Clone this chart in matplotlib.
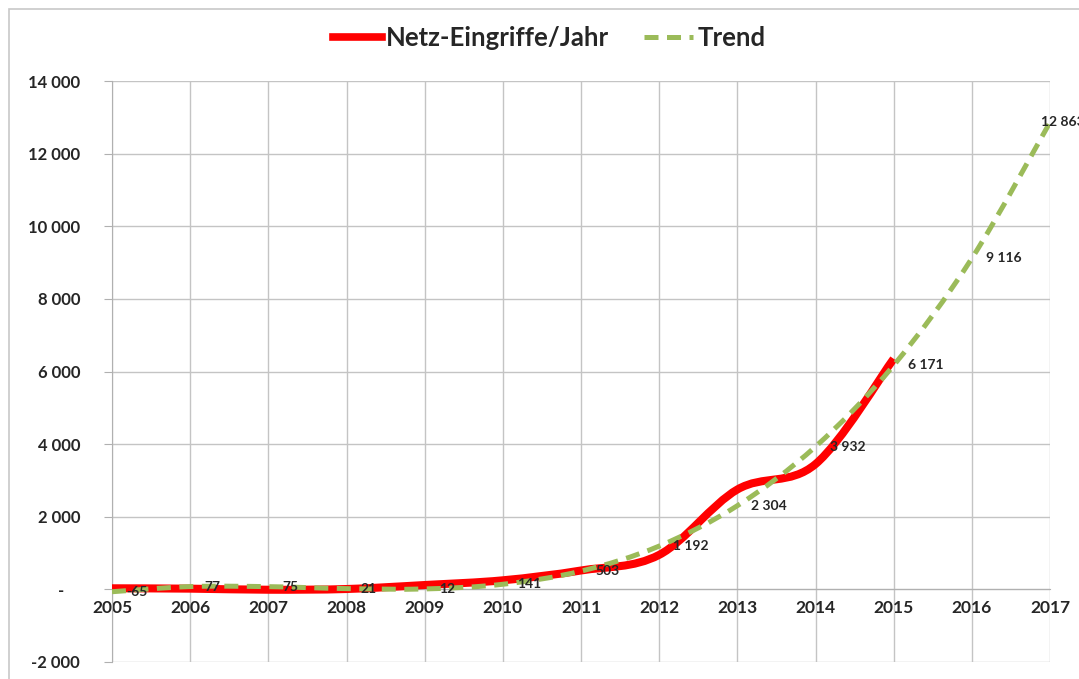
import numpy as np
import matplotlib.pyplot as plt
from matplotlib.path import Path
from matplotlib.patches import PathPatch, Rectangle
from matplotlib.lines import Line2D
from matplotlib.ticker import FuncFormatter, MultipleLocator

plt.rcParams["font.family"] = ["Lato", "DejaVu Sans"]

# data
years = [2005, 2006, 2007, 2008, 2009, 2010, 2011, 2012, 2013, 2014, 2015]
netz = [30, 20, -10, 10, 120, 250, 520, 950, 2750, 3450, 6350]

trend_years = [2005, 2006, 2007, 2008, 2009, 2010, 2011, 2012, 2013, 2014, 2015, 2016, 2017]
trend = [-65, 77, 75, 21, 12, 141, 503, 1192, 2304, 3932, 6171, 9116, 12863]

red = "#FF0000"
green = "#9BBB59"
dash = (0, (2.8, 1.7))


def smooth_path(x, y):
    """Excel-like smoothed line: cubic Bezier with Catmull-Rom control points."""
    x = np.asarray(x, float)
    y = np.asarray(y, float)
    verts = [(x[0], y[0])]
    codes = [Path.MOVETO]
    n = len(x)
    for i in range(n - 1):
        i0 = max(i - 1, 0)
        i3 = min(i + 2, n - 1)
        c1 = (x[i] + (x[i + 1] - x[i0]) / 6, y[i] + (y[i + 1] - y[i0]) / 6)
        c2 = (x[i + 1] - (x[i3] - x[i]) / 6, y[i + 1] - (y[i3] - y[i]) / 6)
        verts += [c1, c2, (x[i + 1], y[i + 1])]
        codes += [Path.CURVE4] * 3
    return Path(verts, codes)


fig = plt.figure(figsize=(10.79, 6.79), dpi=100)
ax = fig.add_axes([112 / 1079, 1 - 662 / 679, (1050 - 112) / 1079, (662 - 81) / 679])

# chart frame
fig.patches.append(
    Rectangle((9 / 1079, -0.05), 1.2, 1 - 9 / 679 + 0.05, transform=fig.transFigure,
              fill=False, edgecolor="#C8C8C8", lw=1.2, zorder=0)
)

ax.add_patch(PathPatch(smooth_path(years, netz), fill=False, edgecolor=red,
                       lw=5.8, capstyle="butt", zorder=3))
ax.add_patch(PathPatch(smooth_path(trend_years, trend), fill=False, edgecolor=green,
                       lw=3.6, linestyle=dash, zorder=4))

for i, (xv, yv) in enumerate(zip(trend_years, trend)):
    dx = -9 if i == len(trend) - 1 else 14
    ax.annotate(f"{yv:,}".replace(",", " "), (xv, yv), xytext=(dx, 0),
                textcoords="offset pixels", ha="left", va="center",
                fontsize=10, fontweight="bold", color="#262626", zorder=5,
                annotation_clip=False)

ax.set_xlim(2005, 2017)
ax.set_ylim(-2000, 14000)
ax.xaxis.set_major_locator(MultipleLocator(1))
ax.yaxis.set_major_locator(MultipleLocator(2000))


def yfmt(v, pos):
    if v == 0:
        return "-    "
    return f"{int(v):,}".replace(",", " ")


ax.yaxis.set_major_formatter(FuncFormatter(yfmt))
ax.xaxis.set_major_formatter(FuncFormatter(lambda v, p: f"{int(v)}"))

ax.grid(True, color="#C4C4C4", lw=1)
ax.set_axisbelow(True)
for s in ["top", "right"]:
    ax.spines[s].set_visible(False)
ax.spines["left"].set_color("#B0B0B0")
ax.spines["bottom"].set_color("#B0B0B0")
ax.spines["bottom"].set_position(("data", 0))

ax.tick_params(axis="x", length=0, pad=8, labelsize=12.5, labelcolor="#262626")
ax.tick_params(axis="y", length=6, color="#B0B0B0", pad=17, labelsize=12, labelcolor="#262626")
for lab in ax.get_xticklabels() + ax.get_yticklabels():
    lab.set_fontweight("bold")

handles = [Line2D([], [], color=red, lw=5.5),
           Line2D([], [], color=green, lw=3.6, linestyle=dash)]
fig.legend(handles, ["Netz-Eingriffe/Jahr", "Trend"], loc="center",
           bbox_to_anchor=(549 / 1079, 1 - 38 / 679), ncol=2, frameon=False,
           handlelength=1.9, handletextpad=0.15, columnspacing=1.4,
           prop={"size": 18.5, "weight": "bold"}, labelcolor="#262626")

fig.savefig("out.png", dpi=100)
